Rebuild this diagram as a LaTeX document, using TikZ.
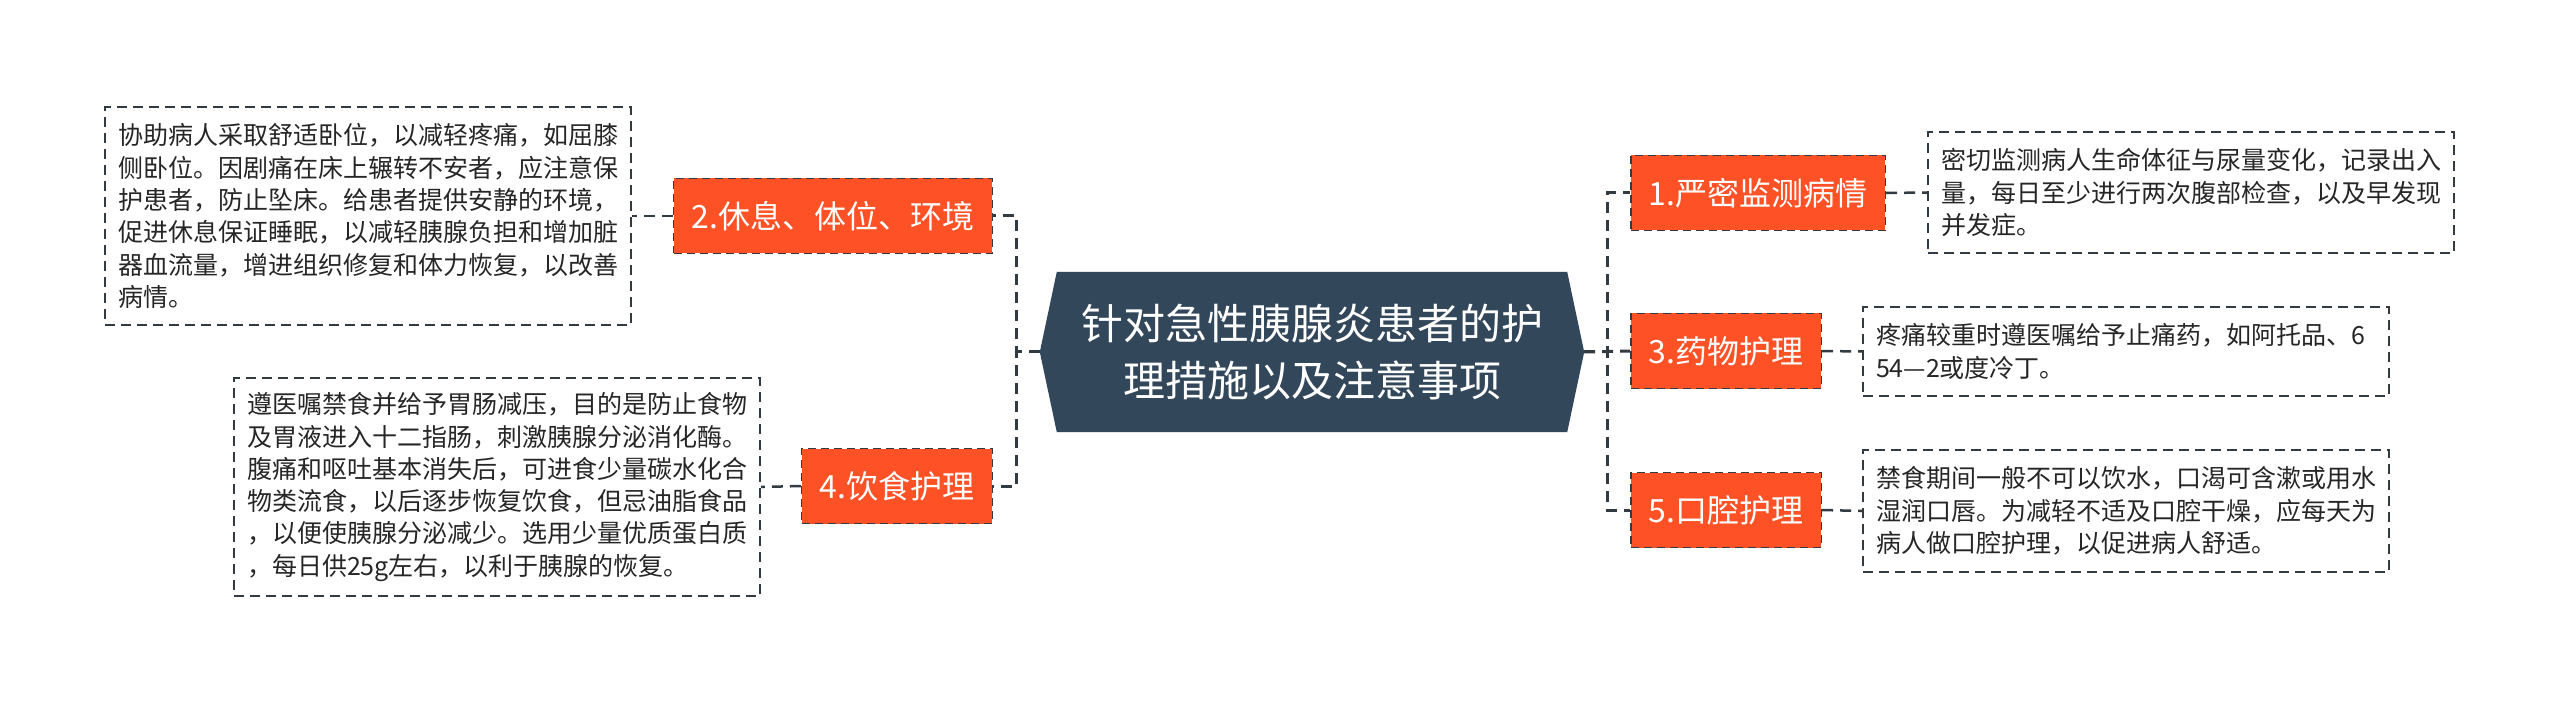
\documentclass[tikz,border=0pt]{standalone}
\usepackage{fontspec}
\usepackage{xcolor}
\usetikzlibrary{backgrounds}
\newfontfamily\cjk{Noto Sans CJK SC}
\definecolor{rootblue}{HTML}{33475B}
\definecolor{topicred}{HTML}{FF5126}
\definecolor{inkgray}{HTML}{333B42}
\tikzstyle{root}	= [minimum width=544pt, minimum height=160pt, inner sep=0pt, text=white, align=center, font={\cjk\fontsize{42pt}{57pt}\selectfont}]
\tikzstyle{topic}	= [rectangle, draw=inkgray, fill=topicred, dash pattern=on 8pt off 5pt, line width=1.5pt, minimum height=75pt, inner xsep=18pt, text=white, font={\cjk\fontsize{32pt}{38pt}\selectfont}]
\tikzstyle{note}	= [rectangle, draw=inkgray, dash pattern=on 10pt off 6pt, line width=2pt, text width=500pt, inner xsep=13pt, inner ysep=0pt, align=left, text=black!85, font={\cjk\fontsize{25pt}{32.3pt}\selectfont}]
\tikzstyle{edgeM}	= [draw, line width=3pt, inkgray, dash pattern=on 11pt off 7pt]
\tikzstyle{edge1}	= [draw, line width=2.5pt, inkgray, dash pattern=on 11pt off 7pt]

\begin{document}
\begin{tikzpicture}[x=1pt, y=-1pt]
		\useasboundingbox (0,0) rectangle (2560,703);
		
		\node[root] (root) at (1312,352) {针对急性胰腺炎患者的护\\理措施以及注意事项};
		
		%%%% Topics (right side, then left side)
		\foreach \pos/\name/\boxw/\txt in {{(1630,193)/n1/252/1.严密监测病情}, {(1630,351)/n3/188/3.药物护理}, {(1630,510)/n5/188/5.口腔护理}}
		\node[topic, anchor=west, minimum width=\boxw pt] (\name) at \pos {\txt};
		
		\foreach \pos/\name/\boxw/\txt in {{(993,216)/n2/316/2.休息、体位、环境}, {(993,486)/n4/186/4.饮食护理}}
		\node[topic, anchor=east, minimum width=\boxw pt] (\name) at \pos {\txt};
		
		%%%% Notes
		\node[note, anchor=west, minimum height=121pt] (t1) at (1927,192.5) {密切监测病人生命体征与尿量变化，记录出入\\量，每日至少进行两次腹部检查，以及早发现\\并发症。};
		\node[note, anchor=west, minimum height=89pt] (t3) at (1862,351.5) {疼痛较重时遵医嘱给予止痛药，如阿托品、6\\54—2或度冷丁。};
		\node[note, anchor=west, minimum height=122pt] (t5) at (1862,511) {禁食期间一般不可以饮水，口渴可含漱或用水\\湿润口唇。为减轻不适及口腔干燥，应每天为\\病人做口腔护理，以促进病人舒适。};
		\node[note, anchor=east, minimum height=218pt] (t2) at (632,216) {协助病人采取舒适卧位，以减轻疼痛，如屈膝\\侧卧位。因剧痛在床上辗转不安者，应注意保\\护患者，防止坠床。给患者提供安静的环境，\\促进休息保证睡眠，以减轻胰腺负担和增加脏\\器血流量，增进组织修复和体力恢复，以改善\\病情。};
		\node[note, anchor=east, minimum height=218pt] (t4) at (761,487) {遵医嘱禁食并给予胃肠减压，目的是防止食物\\及胃液进入十二指肠，刺激胰腺分泌消化酶。\\腹痛和呕吐基本消失后，可进食少量碳水化合\\物类流食，以后逐步恢复饮食，但忌油脂食品\\，以便使胰腺分泌减少。选用少量优质蛋白质\\，每日供25g左右，以利于胰腺的恢复。};
		
		\begin{scope}[on background layer]
		\fill[white] (0,0) rectangle (2560,703);
		%%% Root shape
		\fill[rootblue] (root.west) -- ([xshift=17pt]root.north west) -- ([xshift=-17pt]root.north east) -- (root.east) -- ([xshift=-17pt]root.south east) -- ([xshift=17pt]root.south west) -- cycle;
		
		%%%% Branches
		\foreach \dest in {n1,n5}	\path[edgeM] (root.east) -- ++(23,0) |- (\dest.west);
		\path[edgeM] (root.east) -- (n3.west);
		\foreach \dest in {n2,n4}	\path[edgeM] (root.west) -- ++(-23,0) |- (\dest.east);
		
		%%% Notes
		\foreach \source/ \dest in {n1.east/t1.west,n3.east/t3.west,n5.east/t5.west,n2.west/t2.east,n4.west/t4.east}	\path[edge1] (\source) -- (\dest) ;
		\end{scope}
\end{tikzpicture}
\end{document}
